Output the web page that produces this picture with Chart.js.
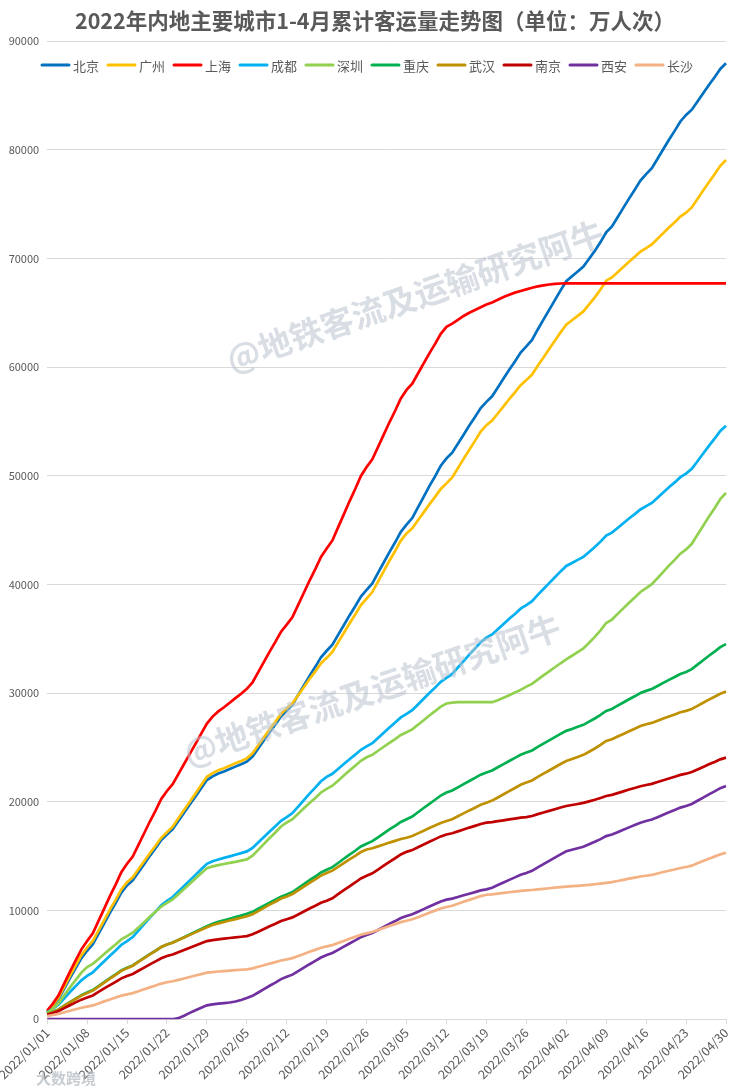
<!DOCTYPE html>
<html>
<head>
<meta charset="utf-8">
<title>2022年内地主要城市1-4月累计客运量走势图</title>
<script src="https://cdn.jsdelivr.net/npm/chart.js@4/dist/chart.umd.min.js"></script>
<style>
  html, body { margin: 0; padding: 0; background: #fff; }
  #wrap { width: 740px; height: 1090px; }
</style>
</head>
<body>
<div id="wrap"><canvas id="cumChart" width="740" height="1090"></canvas></div>
<script>
// --- DATA (cumulative ridership, 万人次) ---
const chartTitle = '2022年内地主要城市1-4月累计客运量走势图（单位：万人次）';
const startDay = [2022, 1, 1];
const dayCount = 120;
const tickEvery = 7;
const yTicks = [0, 10000, 20000, 30000, 40000, 50000, 60000, 70000, 80000, 90000];

const cities = ['北京', '广州', '上海', '成都', '深圳', '重庆', '武汉', '南京', '西安', '长沙'];
const cityColors = ['#0070C0', '#FFC000', '#FF0000', '#00B0F0', '#92D050', '#00B050', '#BF9000', '#C00000', '#7030A0', '#F4B183'];

const beijing = [600,1170,1850,2820,3790,4700,5620,6300,
  6900,7860,8820,9780,10680,11640,12300,
  12770,13520,14270,15030,15730,16480,17000,
  17500,18250,19000,19750,20500,21250,22000,
  22340,22600,22800,23020,23240,23460,23700,
  24170,24920,25670,26430,27130,27880,28400,
  28950,29830,30710,31590,32420,33300,33900,
  34460,35360,36250,37150,37990,38880,39500,
  40100,41060,42020,42980,43880,44840,45500,
  46110,47090,48060,49040,49950,50930,51600,
  52120,52950,53780,54620,55400,56230,56800,
  57310,58130,58940,59760,60520,61340,61900,
  62500,63460,64360,65260,66160,67060,67900,
  68350,68800,69250,69970,70690,71500,72400,
  72940,73790,74650,75500,76310,77160,77750,
  78300,79170,80040,80910,81730,82600,83200,
  83680,84440,85200,85960,86670,87430,87950];

const guangzhou = [700,1290,2000,3000,4000,4950,5890,6600,
  7200,8160,9120,10080,10980,11940,12600,
  13060,13800,14530,15270,15960,16690,17200,
  17710,18480,19240,20010,20770,21540,22300,
  22640,22900,23100,23320,23540,23760,24000,
  24460,25200,25930,26670,27360,28090,28600,
  29070,29810,30550,31300,32000,32740,33250,
  33800,34670,35540,36410,37230,38100,38700,
  39300,40260,41220,42180,43080,44040,44700,
  45160,45900,46630,47370,48060,48790,49300,
  49840,50690,51550,52400,53210,54060,54650,
  55070,55730,56390,57060,57680,58340,58800,
  59310,60130,60890,61660,62420,63190,63900,
  64310,64710,65120,65760,66410,67140,67950,
  68250,68730,69210,69690,70140,70620,70950,
  71280,71800,72320,72840,73320,73840,74200,
  74690,75460,76240,77010,77740,78520,79050];

const shanghai = [800,1440,2210,3300,4380,5410,6430,7200,
  7910,9050,10180,11320,12380,13520,14300,
  14970,16040,17110,18190,19190,20260,21000,
  21620,22550,23480,24410,25340,26270,27200,
  27840,28320,28700,29120,29540,29950,30400,
  30990,31930,32880,33820,34710,35650,36300,
  37000,38120,39240,40360,41410,42530,43300,
  44050,45250,46450,47650,48780,49980,50800,
  51510,52650,53780,54920,55980,57120,57900,
  58480,59410,60340,61260,62130,63060,63700,
  64000,64350,64700,65000,65250,65500,65750,
  65950,66200,66450,66650,66850,67000,67150,
  67300,67420,67520,67600,67650,67690,67700,
  67700,67700,67700,67700,67700,67700,67700,
  67700,67700,67700,67700,67700,67700,67700,
  67700,67700,67700,67700,67700,67700,67700,
  67700,67700,67700,67700,67700,67700,67700];

const chengdu = [620,960,1360,1930,2500,3040,3580,3980,
  4300,4820,5330,5840,6320,6840,7190,
  7560,8160,8750,9340,9900,10490,10900,
  11240,11750,12260,12770,13280,13790,14300,
  14530,14700,14840,14980,15130,15280,15440,
  15760,16260,16770,17270,17750,18250,18600,
  18970,19560,20150,20750,21300,21890,22300,
  22580,23030,23480,23920,24340,24790,25100,
  25400,25880,26360,26840,27290,27770,28100,
  28430,28960,29490,30010,30510,31040,31400,
  31770,32360,32950,33550,34100,34690,35100,
  35400,35880,36360,36840,37290,37770,38100,
  38460,39040,39580,40120,40660,41200,41700,
  41980,42260,42540,42990,43440,43940,44500,
  44770,45200,45630,46070,46470,46900,47200,
  47500,47980,48460,48940,49390,49870,50200,
  50640,51340,52050,52750,53410,54120,54600];

const shenzhen = [540,970,1480,2200,2930,3610,4290,4800,
  5090,5540,6000,6450,6880,7340,7650,
  7960,8440,8930,9420,9880,10370,10700,
  11020,11500,11980,12460,12940,13420,13900,
  14060,14180,14280,14380,14480,14590,14700,
  15040,15580,16130,16670,17180,17730,18100,
  18410,18910,19400,19900,20360,20860,21200,
  21490,21950,22420,22880,23320,23780,24100,
  24330,24700,25070,25430,25780,26150,26400,
  26670,27090,27510,27940,28340,28760,29050,
  29120,29170,29170,29170,29170,29170,29170,
  29170,29350,29580,29810,30050,30300,30600,
  30850,31250,31630,32000,32380,32750,33100,
  33440,33770,34110,34640,35180,35780,36450,
  36770,37290,37800,38310,38790,39310,39660,
  40020,40590,41160,41730,42260,42830,43220,
  43740,44570,45400,46240,47020,47850,48420];

const chongqing = [460,660,900,1240,1570,1890,2210,2450,
  2680,3050,3410,3780,4120,4490,4740,
  4950,5300,5640,5980,6300,6650,6880,
  7050,7300,7550,7800,8060,8310,8560,
  8790,8960,9100,9240,9390,9540,9700,
  9880,10160,10440,10730,10990,11280,11470,
  11700,12060,12430,12790,13130,13500,13750,
  13990,14370,14760,15140,15500,15890,16150,
  16380,16740,17100,17460,17790,18150,18400,
  18650,19040,19430,19820,20190,20580,20850,
  21040,21330,21630,21920,22200,22500,22700,
  22880,23180,23470,23760,24040,24330,24530,
  24730,25050,25350,25650,25950,26250,26530,
  26710,26900,27080,27380,27670,28000,28370,
  28550,28850,29140,29440,29710,30010,30210,
  30380,30660,30940,31220,31480,31760,31950,
  32210,32620,33030,33440,33820,34230,34510];

const wuhan = [460,650,890,1220,1550,1860,2170,2400,
  2630,3000,3370,3730,4080,4450,4700,
  4920,5270,5620,5960,6290,6640,6880,
  7040,7280,7520,7760,7990,8230,8470,
  8670,8820,8950,9080,9210,9340,9480,
  9660,9950,10240,10540,10810,11100,11300,
  11520,11860,12200,12550,12870,13210,13450,
  13670,14010,14360,14710,15030,15380,15620,
  15730,15900,16070,16250,16410,16580,16700,
  16850,17100,17340,17590,17820,18060,18230,
  18400,18670,18940,19210,19460,19730,19920,
  20110,20400,20700,20990,21270,21570,21770,
  21970,22290,22590,22880,23180,23480,23760,
  23950,24130,24320,24610,24910,25240,25610,
  25760,26010,26250,26500,26730,26970,27140,
  27260,27460,27660,27850,28040,28240,28370,
  28550,28830,29120,29400,29670,29950,30150];

const nanjing = [400,560,750,1020,1290,1550,1800,1990,
  2190,2510,2830,3140,3440,3760,3980,
  4160,4460,4750,5040,5320,5610,5810,
  5950,6160,6360,6570,6780,6980,7190,
  7280,7350,7410,7470,7530,7590,7650,
  7810,8050,8300,8550,8780,9030,9200,
  9370,9640,9910,10190,10440,10710,10900,
  11130,11500,11870,12230,12580,12950,13200,
  13420,13770,14120,14480,14810,15160,15400,
  15560,15820,16070,16330,16570,16820,17000,
  17110,17280,17450,17630,17790,17960,18080,
  18130,18220,18300,18380,18460,18540,18600,
  18700,18870,19020,19170,19320,19480,19620,
  19710,19800,19900,20040,20190,20360,20540,
  20640,20800,20960,21130,21280,21440,21550,
  21650,21820,21990,22150,22310,22480,22590,
  22740,22980,23210,23450,23670,23910,24070];

const xian = [0,0,0,0,0,0,0,0,
  0,0,0,0,0,0,0,
  0,0,0,0,0,0,0,
  0,100,320,580,830,1060,1280,
  1360,1430,1480,1540,1630,1770,1950,
  2150,2460,2770,3080,3370,3690,3900,
  4100,4420,4740,5060,5360,5680,5900,
  6090,6380,6680,6970,7250,7550,7750,
  7930,8210,8490,8770,9030,9310,9500,
  9650,9890,10130,10370,10600,10840,11000,
  11100,11250,11400,11550,11690,11850,11950,
  12100,12340,12580,12820,13050,13290,13450,
  13650,13970,14270,14570,14870,15170,15450,
  15590,15730,15870,16090,16320,16570,16850,
  16990,17210,17430,17650,17860,18080,18230,
  18370,18590,18810,19040,19250,19470,19620,
  19800,20100,20390,20690,20960,21260,21460];

const changsha = [300,390,490,640,780,920,1060,1160,
  1270,1450,1640,1820,1990,2170,2290,
  2400,2580,2760,2930,3100,3280,3400,
  3490,3620,3750,3880,4020,4150,4280,
  4340,4390,4430,4470,4510,4550,4590,
  4680,4830,4970,5120,5250,5400,5500,
  5620,5810,6000,6200,6380,6570,6700,
  6820,7010,7200,7400,7580,7770,7900,
  8020,8200,8390,8570,8750,8930,9060,
  9190,9390,9590,9800,9990,10190,10330,
  10440,10620,10800,10980,11150,11330,11450,
  11490,11550,11620,11680,11740,11810,11850,
  11890,11940,11990,12050,12100,12150,12200,
  12240,12270,12310,12360,12420,12480,12550,
  12620,12720,12820,12930,13030,13130,13200,
  13280,13410,13540,13660,13780,13910,14000,
  14130,14340,14550,14760,14960,15170,15310];

const seriesValues = [beijing, guangzhou, shanghai, chengdu, shenzhen, chongqing, wuhan, nanjing, xian, changsha];

// --- CATEGORY LABELS (one per day) ---
const dateLabels = [];
{
  const d = new Date(startDay[0], startDay[1] - 1, startDay[2]);
  while (dateLabels.length < dayCount) {
    const mm = String(d.getMonth() + 1).padStart(2, '0');
    const dd = String(d.getDate()).padStart(2, '0');
    dateLabels.push(`${d.getFullYear()}/${mm}/${dd}`);
    d.setDate(d.getDate() + 1);
  }
}

const FONT = '"Noto Sans CJK SC", "Microsoft YaHei", sans-serif';
const TEXT_GREY = '#595959';
const GRID_GREY = '#d9d9d9';

// title drawn by hand so it sits centred on the page like the original
const pageTitle = {
  id: 'pageTitle',
  afterDraw(chart) {
    const ctx = chart.ctx;
    ctx.save();
    ctx.font = 'bold 21.5px ' + FONT;
    ctx.fillStyle = TEXT_GREY;
    ctx.textAlign = 'center';
    ctx.textBaseline = 'middle';
    ctx.fillText(chartTitle, chart.width / 2 + 5, 21);
    ctx.restore();
  }
};

// legend drawn inside the plot, under the top gridline
const insideLegend = {
  id: 'insideLegend',
  afterDraw(chart) {
    const ctx = chart.ctx;
    ctx.save();
    ctx.font = '13px ' + FONT;
    ctx.textBaseline = 'middle';
    ctx.lineCap = 'round';
    let x = 42;
    const y = 65;
    chart.data.datasets.forEach(ds => {
      ctx.strokeStyle = ds.borderColor;
      ctx.lineWidth = 3;
      ctx.beginPath();
      ctx.moveTo(x, y);
      ctx.lineTo(x + 27, y);
      ctx.stroke();
      ctx.fillStyle = TEXT_GREY;
      ctx.fillText(ds.label, x + 31, y + 1);
      x += 66;
    });
    ctx.restore();
  }
};

// faint watermark text, as on the source image
const watermark = {
  id: 'watermark',
  afterDatasetsDraw(chart) {
    const ctx = chart.ctx;
    const marks = [[415, 296], [372, 690]];
    ctx.save();
    ctx.font = 'bold 33px ' + FONT;
    ctx.textAlign = 'center';
    ctx.textBaseline = 'middle';
    ctx.fillStyle = 'rgba(185, 195, 208, 0.55)';
    marks.forEach(([cx, cy]) => {
      ctx.save();
      ctx.translate(cx, cy);
      ctx.rotate(-19 * Math.PI / 180);
      ctx.fillText('@地铁客流及运输研究阿牛', 0, 0);
      ctx.restore();
    });
    ctx.font = 'bold 15px ' + FONT;
    ctx.textAlign = 'left';
    ctx.fillStyle = 'rgba(175, 182, 190, 0.7)';
    ctx.fillText('大数跨境', 36, 1078);
    ctx.restore();
  }
};

const ctx = document.getElementById('cumChart').getContext('2d');

new Chart(ctx, {
  type: 'line',
  data: {
    labels: dateLabels,
    datasets: cities.map((name, i) => ({
      label: name,
      data: seriesValues[i],
      borderColor: cityColors[i],
      backgroundColor: cityColors[i],
      borderWidth: 2.7,
      pointRadius: 0,
      tension: 0,
      order: cities.length - i
    }))
  },
  options: {
    responsive: false,
    animation: false,
    layout: { padding: { left: 0, right: 14, top: 41, bottom: 7 } },
    plugins: {
      legend: { display: false },
      tooltip: { enabled: false },
      title: { display: false }
    },
    scales: {
      x: {
        offset: false,
        grid: { display: true, drawOnChartArea: false, drawTicks: true, tickLength: 5, color: GRID_GREY },
        border: { display: true, color: GRID_GREY },
        ticks: {
          autoSkip: false,
          minRotation: 45,
          maxRotation: 45,
          color: TEXT_GREY,
          font: { family: FONT, size: 12.5 },
          padding: 1,
          callback: (val, idx) => (idx % tickEvery === 0 ? dateLabels[idx] : null)
        }
      },
      y: {
        min: yTicks[0],
        max: yTicks[yTicks.length - 1],
        afterBuildTicks: scale => { scale.ticks = yTicks.map(v => ({ value: v })); },
        afterFit: scale => { scale.width = 45; },
        grid: { color: GRID_GREY, drawTicks: false },
        border: { display: false },
        ticks: {
          color: TEXT_GREY,
          padding: 8,
          font: { family: FONT, size: 11 },
          callback: v => String(v)
        }
      }
    }
  },
  plugins: [pageTitle, insideLegend, watermark]
});
</script>
</body>
</html>
